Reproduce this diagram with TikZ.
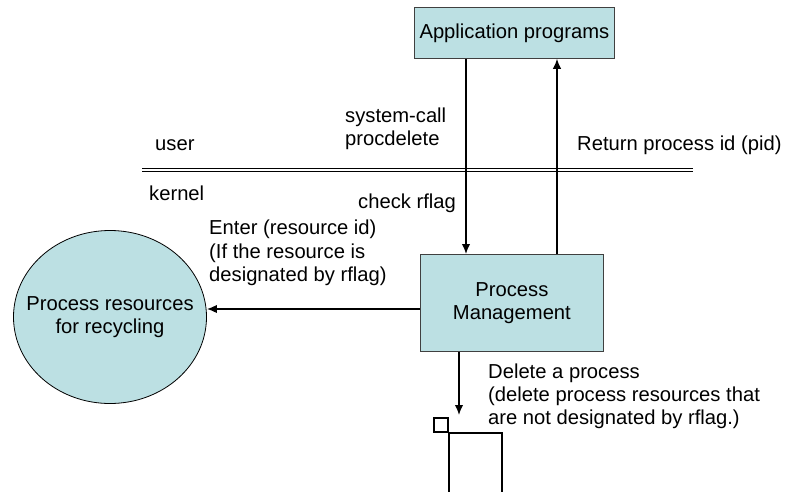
\documentclass[tikz,border=0pt]{standalone}
\usepackage{fontspec}
\setmainfont{Liberation Sans}
\usetikzlibrary{arrows.meta,shapes.geometric}
\definecolor{boxfill}{HTML}{BCE0E3}
\definecolor{boxline}{HTML}{404040}
\begin{document}
\begin{tikzpicture}[x=1pt,y=-1pt,
  txt/.style={font=\fontsize{20.2}{23.3}\selectfont},
  lbl/.style={txt, inner sep=0pt, align=left},
  block/.style={txt, draw=boxline, fill=boxfill, line width=0.8pt, align=center, inner sep=0pt},
  flow/.style={line width=1.5pt, -{Latex[length=10pt,width=8.5pt]}},
  listline/.style={line width=2pt}]
\useasboundingbox (0,0) rectangle (786,492);

% processes and the resource pool
\node[block, minimum width=200pt, minimum height=51pt, anchor=north west] (app) at (414,7) {Application programs};
\node[block, minimum width=183pt, minimum height=97pt, anchor=north west] (pm) at (420,254) {Process\\Management};
\node[block, ellipse, draw=black, inner xsep=-20pt, minimum width=193pt, minimum height=173pt] (pool) at (110,317) {Process resources\\for recycling};

% user / kernel boundary
\coordinate (bl) at (142,169.6);
\coordinate (br) at (693,169.6);
\draw[double, double distance=2.2pt, line width=0.8pt] (bl) -- (br);
\node[lbl, anchor=base west] (user) at (155,150) {user};
\node[lbl, anchor=base west] (kernel) at (149,200) {kernel};

% call and return
\coordinate (callx) at (466,0);
\coordinate (retx) at (557,0);
\draw[flow] (app.south -| callx) -- (pm.north -| callx);
\draw[flow] (pm.north -| retx) -- (app.south -| retx);
\node[lbl, anchor=north west] (call) at (345,107.5) {system-call\\procdelete};
\node[lbl, anchor=base west] (ret) at (577,150) {Return process id (pid)};
\node[lbl, anchor=base west] (chk) at (358,208) {check rflag};

% recycled resources
\coordinate (enterx) at (0,309);
\draw[flow] (pm.west |- enterx) -- (pool.east |- enterx);
\node[lbl, anchor=north west] (enter) at (209,220) {Enter (resource id)\\(If the resource is\\designated by rflag)};

% deletion into the free list
\coordinate (delend) at (459,415);
\draw[flow] (pm.south -| delend) -- (delend);
\node[lbl, anchor=north west] (del) at (488,363.4) {Delete a process\\(delete process resources that\\are not designated by rflag.)};
\node[draw, listline, minimum size=14pt, inner sep=0pt] (sq) at (440.5,425) {};
\coordinate (qr) at (502,492);
\coordinate (ql) at (448,492);
\draw[listline] (sq.south east) -| (qr);
\draw[listline] (sq.south east) -- (sq.south east |- ql);
\end{tikzpicture}
\end{document}
